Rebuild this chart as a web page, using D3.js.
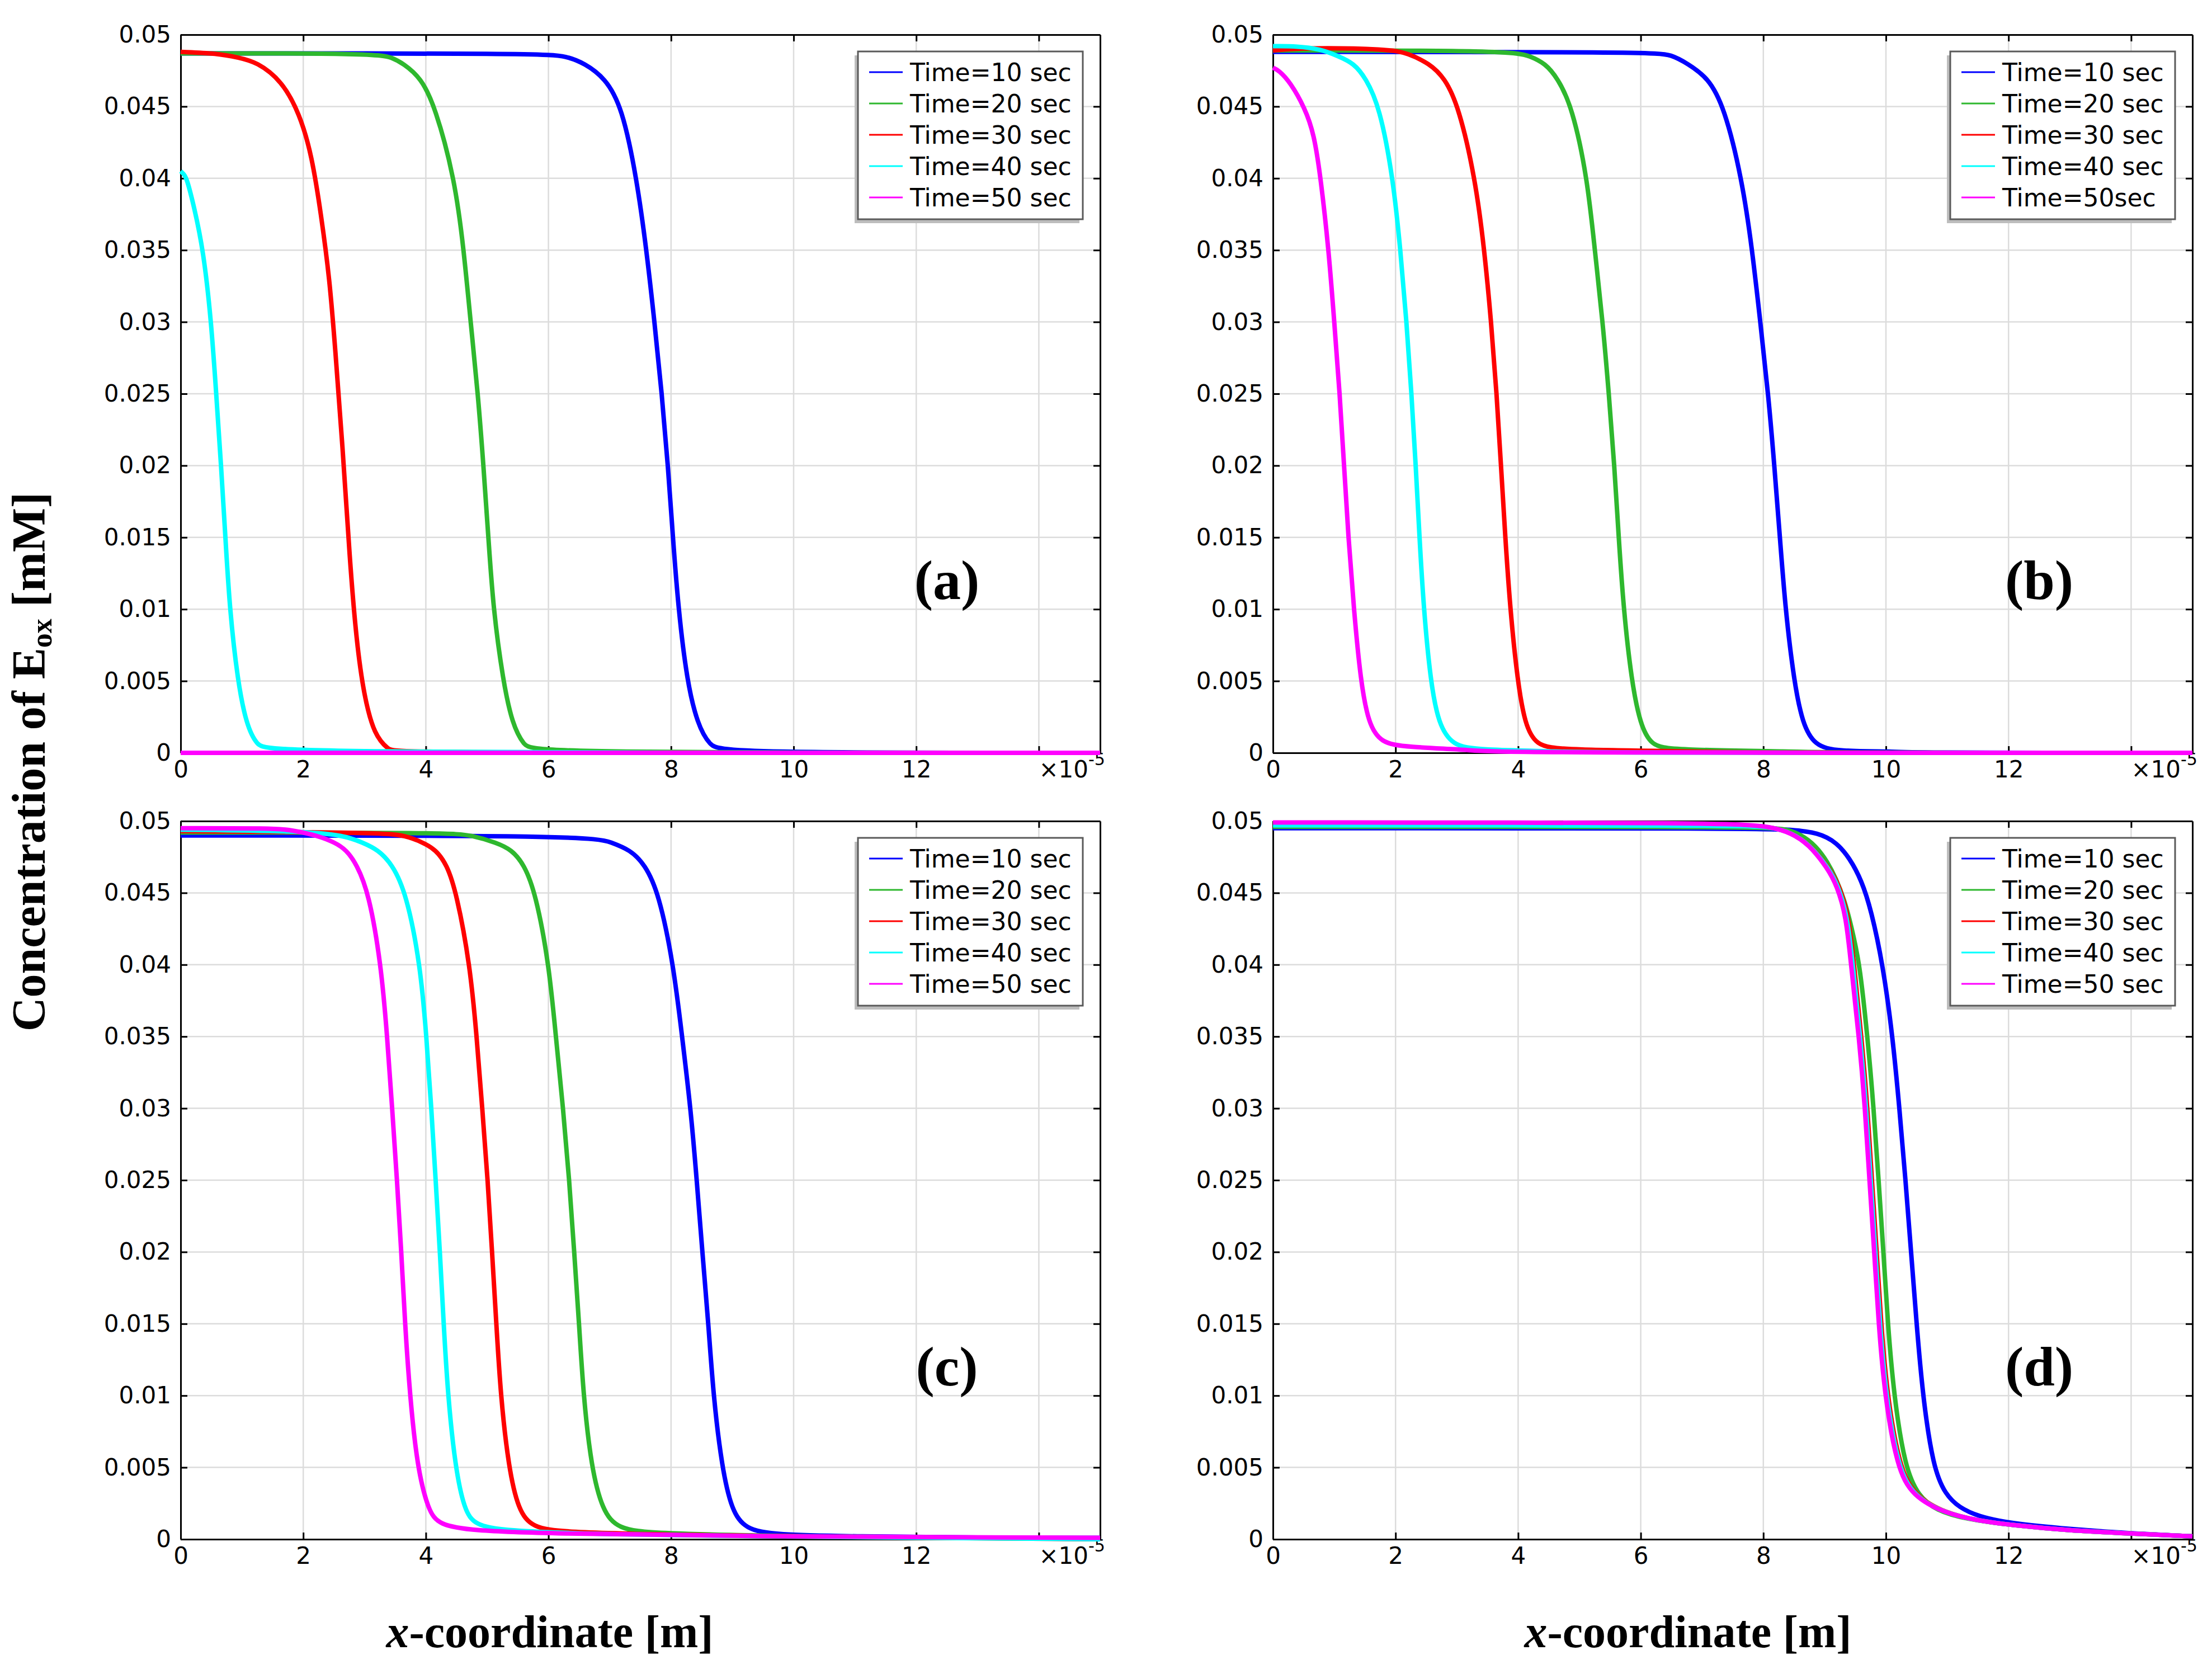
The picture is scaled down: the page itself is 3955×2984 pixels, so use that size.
<!DOCTYPE html>
<html>
<head>
<meta charset="utf-8">
<script src="https://cdn.jsdelivr.net/npm/d3@7"></script>
<style>
  html, body { margin: 0; padding: 0; background: #fff; }
  svg { display: block; }
</style>
</head>
<body>
<svg id="chart" width="3955" height="2984"></svg>
<script>
// ---------- DATA (x in units of 1e-5 m, y in mM) ----------
const xTicks = [0, 2, 4, 6, 8, 10, 12, 14];
const xTickLabels = ["0", "2", "4", "6", "8", "10", "12", ""];
const yTicks = [0, 0.005, 0.01, 0.015, 0.02, 0.025, 0.03, 0.035, 0.04, 0.045, 0.05];
const yTickLabels = ["0", "0.005", "0.01", "0.015", "0.02", "0.025", "0.03", "0.035", "0.04", "0.045", "0.05"];
const seriesColors = ["#0000ff", "#2eb82e", "#ff0000", "#00ffff", "#ff00ff"];
const legendLabels = ["Time=10 sec", "Time=20 sec", "Time=30 sec", "Time=40 sec", "Time=50 sec"];
const legendLabelsB = ["Time=10 sec", "Time=20 sec", "Time=30 sec", "Time=40 sec", "Time=50sec"];
const panelLetters = ["(a)", "(b)", "(c)", "(d)"];

// Panel (a)
const a10 = [[0,0.0487],[5.9,0.0487],[6.3,0.0485],[6.59,0.048],[6.92,0.047],[7.2,0.045],[7.44,0.04],[7.6,0.035],[7.73,0.03],[7.85,0.025],[7.95,0.02],[8.03,0.015],[8.12,0.01],[8.26,0.005],[8.43,0.002],[8.63,0.0005],[8.86,0],[15,0]];
const a20 = [[0,0.0487],[3.2,0.0487],[3.45,0.0484],[3.63,0.048],[3.92,0.047],[4.15,0.045],[4.47,0.04],[4.62,0.035],[4.73,0.03],[4.85,0.025],[4.94,0.02],[5.02,0.015],[5.1,0.01],[5.26,0.005],[5.41,0.002],[5.6,0.0005],[5.78,0],[15,0]];
const a30 = [[0,0.0488],[0.6,0.0487],[0.95,0.0484],[1.24,0.0481],[1.65,0.0468],[1.94,0.0445],[2.14,0.0416],[2.29,0.0375],[2.43,0.033],[2.52,0.0282],[2.64,0.0215],[2.76,0.0133],[2.87,0.0077],[2.99,0.004],[3.16,0.0012],[3.4,0.0002],[3.5,0],[15,0]];
const a40 = [[0,0.0405],[0.05,0.0403],[0.1,0.04],[0.22,0.038],[0.37,0.035],[0.5,0.03],[0.58,0.025],[0.66,0.02],[0.73,0.015],[0.8,0.01],[0.93,0.005],[1.07,0.002],[1.24,0.0005],[1.48,0],[15,0]];
const a50 = [[0,0],[15,0]];

// Panel (b)
const b10 = [[0,0.0488],[6.2,0.0488],[6.5,0.0486],[6.76,0.048],[7.1,0.047],[7.36,0.045],[7.65,0.04],[7.82,0.035],[7.95,0.03],[8.08,0.025],[8.18,0.02],[8.27,0.015],[8.36,0.01],[8.5,0.005],[8.64,0.002],[8.84,0.0005],[9.2,0.0001],[10.2,0.0001],[10.3,0],[15,0]];
const b20 = [[0,0.0489],[3.9,0.0489],[4.2,0.0485],[4.44,0.048],[4.64,0.047],[4.88,0.045],[5.13,0.04],[5.25,0.035],[5.38,0.03],[5.48,0.025],[5.57,0.02],[5.64,0.015],[5.72,0.01],[5.85,0.005],[5.99,0.002],[6.17,0.0005],[6.5,0.0002],[8.6,0.0001],[9,0],[15,0]];
const b30 = [[0,0.0489],[0.5,0.0491],[1.9,0.049],[2.2,0.0487],[2.55,0.048],[2.8,0.047],[3.03,0.045],[3.3,0.04],[3.45,0.035],[3.56,0.03],[3.65,0.025],[3.72,0.02],[3.79,0.015],[3.87,0.01],[3.99,0.005],[4.11,0.002],[4.29,0.0005],[4.7,0.0002],[7.2,0.0001],[7.5,0],[15,0]];
const b40 = [[0,0.0492],[0.4,0.0492],[0.77,0.049],[1.07,0.0485],[1.32,0.048],[1.51,0.047],[1.74,0.045],[1.96,0.04],[2.08,0.035],[2.18,0.03],[2.26,0.025],[2.33,0.02],[2.39,0.015],[2.46,0.01],[2.57,0.005],[2.7,0.002],[2.93,0.0005],[3.35,0.0002],[4.8,0.0001],[5,0],[15,0]];
const b50 = [[0,0.0477],[0.1,0.0475],[0.28,0.0467],[0.52,0.0449],[0.67,0.0431],[0.78,0.04],[0.91,0.035],[1.0,0.03],[1.09,0.025],[1.16,0.02],[1.23,0.015],[1.32,0.01],[1.43,0.005],[1.56,0.002],[1.76,0.0007],[2.16,0.0004],[3.3,0.0002],[3.5,0],[15,0]];

// Panel (c)
const c10 = [[0,0.049],[6.7,0.049],[7.03,0.0485],[7.33,0.048],[7.57,0.047],[7.8,0.045],[8.04,0.04],[8.18,0.035],[8.32,0.03],[8.42,0.025],[8.51,0.02],[8.61,0.015],[8.69,0.01],[8.83,0.005],[8.99,0.002],[9.21,0.0007],[9.7,0.0003],[11,0.0002],[13,0.0001],[15,0.0001]];
const c20 = [[0,0.0492],[4.4,0.0492],[4.75,0.049],[5.15,0.0485],[5.4,0.048],[5.6,0.047],[5.79,0.045],[6.01,0.04],[6.12,0.035],[6.24,0.03],[6.34,0.025],[6.42,0.02],[6.5,0.015],[6.57,0.01],[6.7,0.005],[6.88,0.002],[7.13,0.0007],[7.72,0.0004],[10,0.0002],[13,0.0001],[15,0]];
const c30 = [[0,0.0493],[3.27,0.0492],[3.66,0.049],[3.96,0.0485],[4.16,0.048],[4.34,0.047],[4.5,0.045],[4.72,0.04],[4.83,0.035],[4.92,0.03],[5.01,0.025],[5.08,0.02],[5.15,0.015],[5.22,0.01],[5.35,0.005],[5.51,0.002],[5.74,0.0008],[6.24,0.0005],[8,0.0003],[12,0.0001],[15,0]];
const c40 = [[0,0.0494],[1.98,0.0493],[2.67,0.049],[2.97,0.0485],[3.22,0.048],[3.45,0.047],[3.68,0.045],[3.91,0.04],[4.01,0.035],[4.09,0.03],[4.16,0.025],[4.23,0.02],[4.29,0.015],[4.36,0.01],[4.48,0.005],[4.63,0.002],[4.8,0.001],[5.25,0.0006],[7,0.0003],[12,0.0001],[15,0]];
const c50 = [[0,0.0495],[1.5,0.0495],[1.78,0.0494],[2.23,0.049],[2.52,0.0485],[2.7,0.048],[2.87,0.047],[3.07,0.045],[3.27,0.04],[3.37,0.035],[3.45,0.03],[3.53,0.025],[3.6,0.02],[3.66,0.015],[3.74,0.01],[3.86,0.005],[4.04,0.002],[4.21,0.001],[4.75,0.0006],[6,0.0004],[9,0.0002],[15,0.0001]];

// Panel (d)
const d10 = [[0,0.0495],[8.0,0.0495],[8.44,0.0494],[8.9,0.0492],[9.2,0.0485],[9.41,0.0474],[9.6,0.0459],[9.76,0.0438],[9.95,0.04],[10.11,0.035],[10.22,0.03],[10.32,0.025],[10.41,0.02],[10.5,0.015],[10.6,0.01],[10.77,0.005],[10.97,0.0031],[11.2,0.0022],[11.5,0.0016],[12.02,0.0011],[13,0.0007],[14,0.0004],[15,0.0002]];
const d20 = [[0,0.0496],[7.5,0.0496],[8.2,0.0495],[8.43,0.0494],[8.73,0.0488],[9.04,0.0474],[9.34,0.0445],[9.49,0.0416],[9.57,0.04],[9.7,0.035],[9.8,0.03],[9.88,0.025],[9.96,0.02],[10.03,0.015],[10.13,0.01],[10.31,0.005],[10.53,0.003],[10.82,0.002],[11.3,0.0014],[12.02,0.001],[13,0.0006],[14,0.0004],[15,0.0002]];
const d30 = [[0,0.0497],[7.5,0.0497],[8.15,0.0496],[8.45,0.0492],[8.76,0.0484],[9.08,0.0467],[9.24,0.0455],[9.39,0.0434],[9.48,0.04],[9.6,0.035],[9.7,0.03],[9.77,0.025],[9.85,0.02],[9.92,0.015],[10.02,0.01],[10.22,0.005],[10.47,0.003],[10.98,0.0018],[11.5,0.0013],[12.02,0.001],[13,0.0006],[14,0.0004],[15,0.0002]];
const d40 = [[0,0.0497],[7.5,0.0497],[8.14,0.0496],[8.45,0.0492],[8.75,0.0484],[9.07,0.0467],[9.22,0.0455],[9.37,0.0434],[9.46,0.04],[9.58,0.035],[9.68,0.03],[9.75,0.025],[9.83,0.02],[9.9,0.015],[10.0,0.01],[10.2,0.005],[10.45,0.003],[10.97,0.0018],[11.5,0.0013],[12.02,0.001],[13,0.0006],[14,0.0004],[15,0.0002]];
const d50 = [[0,0.0499],[7.5,0.0499],[8.13,0.0496],[8.44,0.0492],[8.74,0.0484],[9.05,0.0467],[9.2,0.0455],[9.35,0.0434],[9.43,0.04],[9.56,0.035],[9.66,0.03],[9.73,0.025],[9.81,0.02],[9.88,0.015],[9.98,0.01],[10.18,0.005],[10.43,0.003],[10.97,0.0018],[11.5,0.0013],[12.02,0.001],[13,0.0006],[14,0.0004],[15,0.0002]];

// ---------- LAYOUT ----------
const PW = 1644, PH = 1284;
const panels = [
  { left: 323,  top: 62,   series: [a10, a20, a30, a40, a50], legend: legendLabels,  letter: panelLetters[0] },
  { left: 2276, top: 62,   series: [b10, b20, b30, b40, b50], legend: legendLabelsB, letter: panelLetters[1] },
  { left: 323,  top: 1468, series: [c10, c20, c30, c40, c50], legend: legendLabels,  letter: panelLetters[2] },
  { left: 2276, top: 1468, series: [d10, d20, d30, d40, d50], legend: legendLabels,  letter: panelLetters[3] }
];

const svg = d3.select("#chart");
svg.append("rect").attr("width", 3955).attr("height", 2984).attr("fill", "#fff");

const tickFont = "'DejaVu Sans', sans-serif";
const serif = "'Liberation Serif', 'Times New Roman', serif";

panels.forEach(p => {
  const g = svg.append("g").attr("transform", `translate(${p.left},${p.top})`);
  const x = d3.scaleLinear().domain([0, 15]).range([0, PW]);
  const y = d3.scaleLinear().domain([0, 0.05]).range([PH, 0]);

  // grid
  g.append("g").selectAll("line").data(xTicks.filter(d => d > 0)).join("line")
    .attr("x1", d => x(d)).attr("x2", d => x(d)).attr("y1", 0).attr("y2", PH)
    .attr("stroke", "#dcdcdc").attr("stroke-width", 2.5);
  g.append("g").selectAll("line").data(yTicks.filter(d => d > 0)).join("line")
    .attr("x1", 0).attr("x2", PW).attr("y1", d => y(d)).attr("y2", d => y(d))
    .attr("stroke", "#dcdcdc").attr("stroke-width", 2.5);

  // axes
  const styleAxis = sel => {
    sel.selectAll("path.domain").attr("stroke", "#000").attr("stroke-width", 3);
    sel.selectAll(".tick line").attr("stroke", "#000").attr("stroke-width", 3);
    sel.selectAll(".tick text").attr("font-family", tickFont).attr("font-size", 42).attr("fill", "#000");
  };
  g.append("g").attr("transform", `translate(0,${PH})`)
    .call(d3.axisBottom(x).tickValues(xTicks).tickSizeInner(-12).tickSizeOuter(0).tickPadding(14)
      .tickFormat((d, i) => xTickLabels[i]))
    .call(styleAxis);
  g.append("g")
    .call(d3.axisLeft(y).tickValues(yTicks).tickSizeInner(-12).tickSizeOuter(0).tickPadding(17)
      .tickFormat((d, i) => yTickLabels[i]))
    .call(styleAxis);
  g.append("g").attr("transform", `translate(${PW},0)`)
    .call(d3.axisRight(y).tickValues(yTicks).tickSizeInner(-12).tickSizeOuter(0).tickFormat(""))
    .call(styleAxis);
  g.append("g")
    .call(d3.axisTop(x).tickValues(xTicks).tickSizeInner(-12).tickSizeOuter(0).tickFormat(""))
    .call(styleAxis);

  // x10^-5 multiplier
  const mult = g.append("text").attr("x", x(14)).attr("y", PH + 44)
    .attr("font-family", tickFont).attr("font-size", 42).attr("fill", "#000");
  mult.append("tspan").text("×10");
  mult.append("tspan").attr("dy", -22).attr("font-size", 30).text("-5");

  // curves
  const line = d3.line().x(d => x(d[0])).y(d => y(d[1])).curve(d3.curveBasis);
  p.series.forEach((s, i) => {
    g.append("path").datum(s).attr("d", line).attr("fill", "none")
      .attr("stroke", seriesColors[i]).attr("stroke-width", 8)
      .attr("stroke-linejoin", "round").attr("stroke-linecap", "butt");
  });

  // panel letter
  g.append("text").attr("x", x(12.5)).attr("y", y(0.0107))
    .attr("text-anchor", "middle").attr("font-family", serif).attr("font-weight", "bold")
    .attr("font-size", 100).attr("fill", "#000").text(p.letter);

  // legend
  const lx = 1211, ly = 30, lw = 402, lh = 300;
  const lg = g.append("g").attr("transform", `translate(${lx},${ly})`);
  lg.append("rect").attr("x", -6).attr("y", 7).attr("width", lw).attr("height", lh).attr("fill", "#bdbdbd");
  lg.append("rect").attr("width", lw).attr("height", lh).attr("fill", "#fff")
    .attr("stroke", "#5a5a5a").attr("stroke-width", 3);
  p.legend.forEach((lab, i) => {
    const cy = 37 + i * 56;
    lg.append("line").attr("x1", 20).attr("x2", 80).attr("y1", cy).attr("y2", cy)
      .attr("stroke", seriesColors[i]).attr("stroke-width", 3);
    lg.append("text").attr("x", 93).attr("y", cy).attr("dy", "0.36em")
      .attr("font-family", tickFont).attr("font-size", 44).attr("fill", "#000").text(lab);
  });
});

// y-axis title
const yt = svg.append("text").attr("transform", "translate(80,1362) rotate(-90)")
  .attr("text-anchor", "middle").attr("font-family", serif).attr("font-weight", "bold")
  .attr("font-size", 84).attr("fill", "#000");
yt.append("tspan").text("Concentration of E");
yt.append("tspan").attr("font-size", 52).attr("dy", 12).text("ox");
yt.append("tspan").attr("dy", -12).text(" [mM]");

// x-axis titles
[983, 3018].forEach(cx => {
  const t = svg.append("text").attr("x", cx).attr("y", 2945).attr("text-anchor", "middle")
    .attr("font-family", serif).attr("font-weight", "bold").attr("font-size", 82).attr("fill", "#000");
  t.append("tspan").attr("font-style", "italic").text("x");
  t.append("tspan").text("-coordinate [m]");
});
</script>
</body>
</html>
